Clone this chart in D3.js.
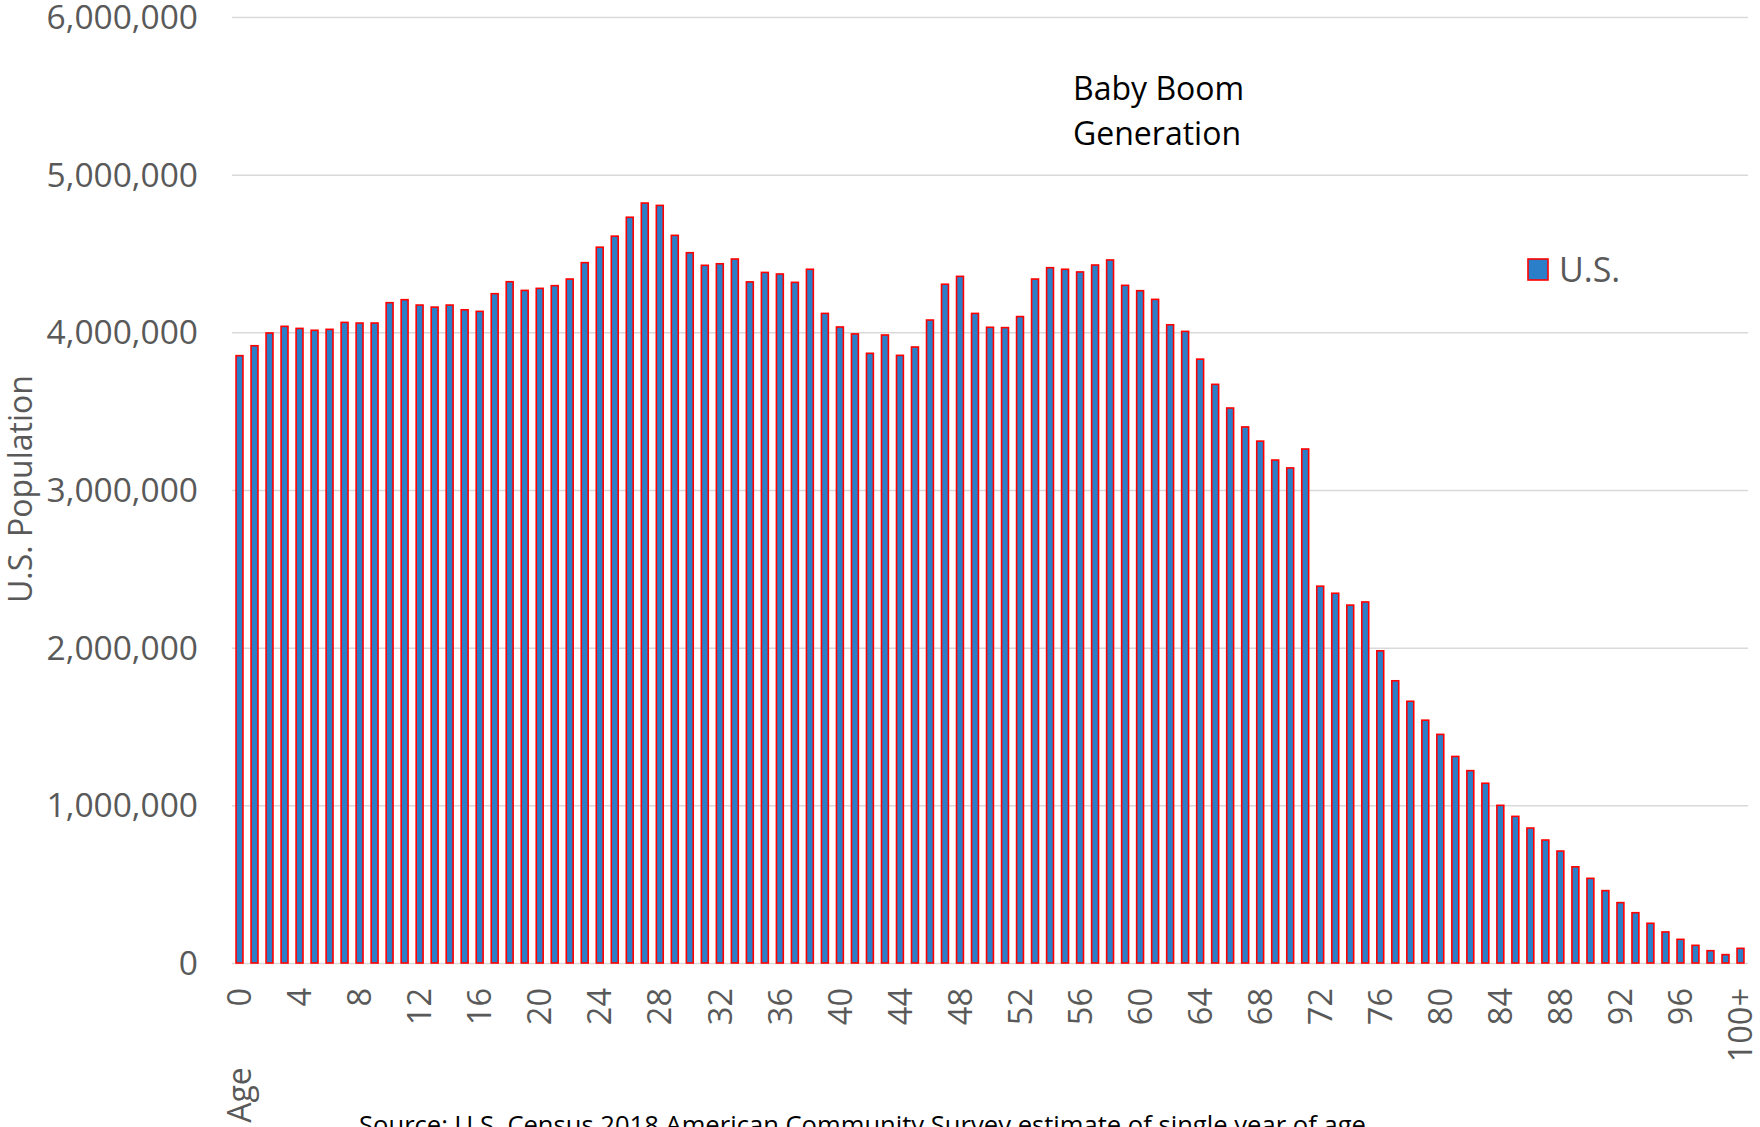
<!DOCTYPE html>
<html>
<head>
<meta charset="utf-8">
<script src="https://cdn.jsdelivr.net/npm/d3@7"></script>
<style>
	body { margin: 0; background: #fff; }
	svg text { font-family: "Open Sans", sans-serif; }
</style>
</head>
<body>
<script>

// ages 0..99 plus the open-ended top group
var ages = d3.range(100).map(String).concat(["100+"]);

// U.S. population by single year of age
var population = [
	3852000, 3915000, 3996000, 4038000, 4025000, 4013000, 4019000, 4063000, 4059000, 4059000,
	4188000, 4207000, 4173000, 4160000, 4173000, 4143000, 4133000, 4245000, 4321000, 4266000,
	4279000, 4296000, 4338000, 4442000, 4540000, 4610000, 4730000, 4820000, 4805000, 4615000,
	4505000, 4425000, 4435000, 4465000, 4320000, 4380000, 4370000, 4317000, 4400000, 4120000,
	4034000, 3990000, 3867000, 3983000, 3854000, 3907000, 4078000, 4305000, 4355000, 4120000,
	4032000, 4030000, 4100000, 4338000, 4410000, 4400000, 4383000, 4427000, 4459000, 4298000,
	4264000, 4209000, 4048000, 4006000, 3830000, 3670000, 3520000, 3400000, 3310000, 3190000,
	3140000, 3260000, 2390000, 2345000, 2270000, 2290000, 1980000, 1790000, 1660000, 1540000,
	1450000, 1310000, 1220000, 1140000, 1000000, 930000, 856000, 780000, 710000, 610000,
	537000, 459000, 383000, 319000, 252000, 197000, 150000, 112000, 78000, 53000,
	93000
];

var yTicks = [0, 1000000, 2000000, 3000000, 4000000, 5000000, 6000000];
var xTicks = ["0", "4", "8", "12", "16", "20", "24", "28", "32", "36", "40", "44", "48",
	"52", "56", "60", "64", "68", "72", "76", "80", "84", "88", "92", "96", "100+"];

var seriesName = "U.S.";
var noteLines = ["Baby Boom", "Generation"];
var sourceText = "Source: U.S. Census 2018 American Community Survey estimate of single year of age";

var data = ages.map(function(a, i) { return {age: a, value: population[i]}; });

var margin = {top: 17, right: 12, bottom: 164, left: 232},
	width = 1760 - margin.left - margin.right,
	height = 1127 - margin.top - margin.bottom;

var svg = d3.select("body").append("svg")
	.attr("width", 1760)
	.attr("height", 1127);

var g = svg.append("g")
	.attr("transform", "translate(" + margin.left + "," + margin.top + ")");

var x = d3.scaleBand()
	.domain(ages)
	.range([0, width])
	.paddingInner(0.54)
	.paddingOuter(0.27);

var y = d3.scaleLinear()
	.domain([0, 6000000])
	.range([height, 0]);

// gridlines + y labels
var yAxis = g.append("g")
	.call(d3.axisLeft(y)
		.tickValues(yTicks)
		.tickFormat(d3.format(","))
		.tickSize(-width)
		.tickPadding(34));

yAxis.select(".domain").remove();
yAxis.selectAll("line")
	.attr("stroke", "#d9d9d9")
	.attr("stroke-width", 1.5);
yAxis.selectAll("text")
	.attr("fill", "#595959")
	.attr("dy", "0.34em")
	.style("font-size", "33.5px");

// bars
g.selectAll("rect.bar")
	.data(data)
	.enter().append("rect")
		.attr("class", "bar")
		.attr("x", function(d) { return x(d.age); })
		.attr("width", x.bandwidth())
		.attr("y", function(d) { return y(d.value); })
		.attr("height", function(d) { return height - y(d.value); })
		.attr("fill", "#2a7fc8")
		.attr("stroke", "#ff0000")
		.attr("stroke-width", 1.6);

// x labels, rotated
var xAxis = g.append("g")
	.attr("transform", "translate(0," + height + ")")
	.call(d3.axisBottom(x).tickValues(xTicks).tickSize(0));

xAxis.select(".domain").remove();
xAxis.selectAll("text")
	.attr("transform", "rotate(-90)")
	.attr("text-anchor", "end")
	.attr("x", -25)
	.attr("y", 0)
	.attr("dy", "0.36em")
	.attr("fill", "#595959")
	.style("font-size", "32.5px");

// axis titles
svg.append("text")
	.attr("transform", "translate(20," + 489 + ") rotate(-90)")
	.attr("text-anchor", "middle")
	.attr("dy", "0.36em")
	.attr("fill", "#595959")
	.style("font-size", "32px")
	.text("U.S. Population");

svg.append("text")
	.attr("transform", "translate(" + (margin.left + x("0") + x.bandwidth() / 2) + ",1095) rotate(-90)")
	.attr("text-anchor", "middle")
	.attr("dy", "0.36em")
	.attr("fill", "#595959")
	.style("font-size", "32px")
	.text("Age");

// annotation
svg.append("g").selectAll("text")
	.data(noteLines)
	.enter().append("text")
		.attr("x", 1073)
		.attr("y", function(d, i) { return 100 + i * 45; })
		.attr("fill", "#000")
		.style("font-size", "32px")
		.text(function(d) { return d; });

// legend
var legend = svg.append("g")
	.attr("transform", "translate(1528,259)");

legend.append("rect")
	.attr("width", 20)
	.attr("height", 21)
	.attr("fill", "#2a7fc8")
	.attr("stroke", "#ff0000")
	.attr("stroke-width", 1.6);

legend.append("text")
	.attr("x", 31)
	.attr("y", 23)
	.attr("fill", "#595959")
	.style("font-size", "34px")
	.text(seriesName);

// source note, cut by the bottom edge as in the original
svg.append("text")
	.attr("x", 359)
	.attr("y", 1134)
	.attr("fill", "#000")
	.style("font-size", "25.6px")
	.text(sourceText);

</script>
</body>
</html>
